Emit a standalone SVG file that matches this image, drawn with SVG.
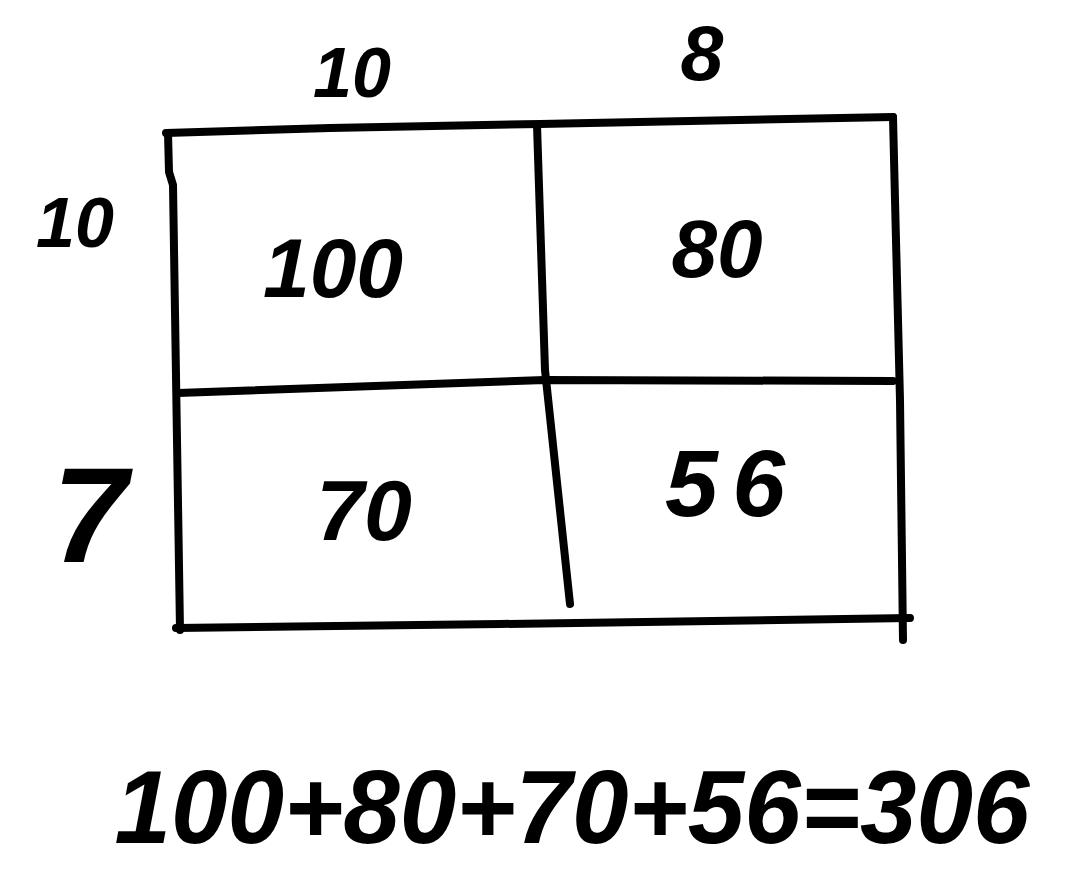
<svg xmlns="http://www.w3.org/2000/svg" width="1074" height="870" viewBox="0 0 1074 870">
<style>
.ln{fill:none;stroke:#000;stroke-width:8;stroke-linecap:round;stroke-linejoin:round}
.t{font-family:"Liberation Sans",Arial,sans-serif;font-style:italic;font-weight:bold;fill:#000;text-anchor:middle}
</style>
<rect width="1074" height="870" fill="#fff"/>
<g id="grid">
<path class="ln" d="M166,133 L330,128 L540,124 L893,117"/>
<path class="ln" d="M168,133 L169,172 L173,185 L180,630"/>
<path class="ln" d="M178,393 L545,380 L893,381"/>
<path class="ln" d="M537,125 L545,370 L570,604"/>
<path class="ln" d="M893,117 L895,200 L900,400 L903,640"/>
<path class="ln" d="M176,628 L500,624 L910,618"/>
</g>
<g id="labels">
<text class="t" x="352" y="97" font-size="70">10</text>
<text class="t" x="702" y="80" font-size="77">8</text>
<text class="t" x="75" y="247" font-size="70">10</text>
<text class="t" x="90" y="562" font-size="135" font-weight="normal" font-style="normal">7</text>
<text class="t" x="333" y="297" font-size="84">100</text>
<text class="t" x="717" y="277" font-size="82">80</text>
<text class="t" x="364" y="540" font-size="86">70</text>
<text class="t" x="725" y="516" font-size="95" textLength="120" lengthAdjust="spacing">56</text>
<text class="t" x="572" y="843" font-size="103" textLength="915" lengthAdjust="spacingAndGlyphs">100+80+70+56=306</text>
</g>
</svg>
